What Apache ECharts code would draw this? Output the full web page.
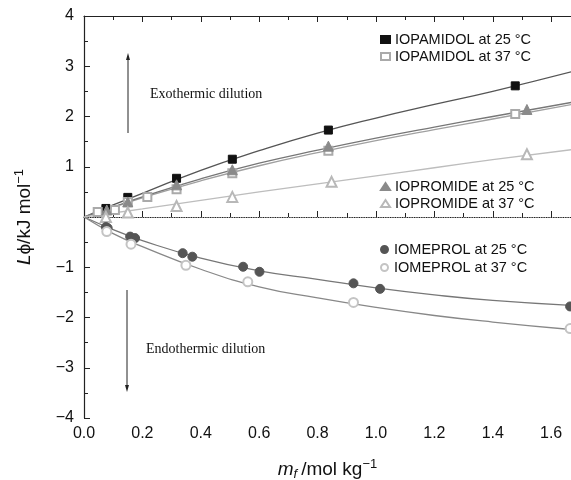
<!DOCTYPE html>
<html>
<head>
<meta charset="utf-8">
<script src="https://cdn.jsdelivr.net/npm/echarts@6/dist/echarts.min.js"></script>
<style>
  html, body { margin: 0; background: #fff; }
  #chart { width: 571px; height: 480px; }
</style>
</head>
<body>
<div id="chart"></div>
<script>
// measured points (mf, Lphi)
const iopamidol25 = [[0.075, 0.17], [0.15, 0.39], [0.317, 0.77], [0.508, 1.15], [0.837, 1.73], [1.477, 2.61]];
const iopamidol37 = [[0.047, 0.10], [0.106, 0.14], [0.15, 0.30], [0.217, 0.40], [0.317, 0.55], [0.508, 0.87], [0.837, 1.32], [1.477, 2.05]];
const iopromide25 = [[0.078, 0.14], [0.15, 0.30], [0.317, 0.64], [0.508, 0.94], [0.837, 1.41], [1.517, 2.14]];
const iopromide37 = [[0.075, 0.0], [0.15, 0.09], [0.317, 0.22], [0.508, 0.40], [0.848, 0.70], [1.517, 1.25]];
const iomeprol25 = [[0.075, -0.20], [0.081, -0.22], [0.158, -0.39], [0.175, -0.42], [0.338, -0.72], [0.371, -0.79],
  [0.545, -0.99], [0.601, -1.09], [0.923, -1.32], [1.014, -1.43], [1.665, -1.78]];
const iomeprol37 = [[0.078, -0.29], [0.161, -0.54], [0.349, -0.96], [0.561, -1.29], [0.923, -1.70], [1.665, -2.22]];

// fitted curves
const curveX = [0, 0.1, 0.2, 0.4, 0.6, 0.8, 1.0, 1.2, 1.4, 1.67];
const fitPam25 = [0, 0.24, 0.47, 0.93, 1.32, 1.67, 1.97, 2.24, 2.50, 2.89];
const fitPam37 = [0, 0.19, 0.38, 0.72, 1.02, 1.28, 1.52, 1.74, 1.95, 2.24];
const fitPro25 = [0, 0.20, 0.40, 0.76, 1.07, 1.33, 1.57, 1.79, 2.00, 2.28];
const fitPro37 = [0, 0.08, 0.16, 0.33, 0.50, 0.66, 0.82, 0.98, 1.14, 1.34];
const fitMep25 = [0, -0.25, -0.47, -0.82, -1.07, -1.24, -1.41, -1.55, -1.66, -1.76];
const fitMep37 = [0, -0.33, -0.59, -1.04, -1.39, -1.61, -1.80, -1.96, -2.09, -2.24];

const font = 'Liberation Sans, Arial, sans-serif';
const chart = echarts.init(document.getElementById('chart'));

function curve(vals, color) {
  return {
    type: 'line', data: curveX.map((x, i) => [x, vals[i]]),
    smooth: true, showSymbol: false, silent: true, z: 2,
    lineStyle: { color: color, width: 1.3 }
  };
}

function points(name, data, symbol, color, size) {
  return {
    name: name, type: 'scatter', data: data, symbol: symbol, symbolSize: size, z: 5,
    itemStyle: { color: color, borderColor: color, borderWidth: 1, opacity: 1 }
  };
}

function legendAt(top, names, gap) {
  return {
    left: 380, top: top, orient: 'vertical', padding: 0, itemGap: gap,
    itemWidth: 9, itemHeight: 7, selectedMode: false, data: names,
    textStyle: { fontFamily: font, fontSize: 14.5, color: '#111', lineHeight: 15 }
  };
}

const axisCommon = {
  min: 0, max: 1.668, interval: 0.2,
  axisLine: { lineStyle: { color: '#222', width: 1.2 } },
  axisTick: { inside: true, length: 6, lineStyle: { color: '#222' } },
  minorTick: { show: true, splitNumber: 2, length: 4, lineStyle: { color: '#222' } },
  splitLine: { show: false }
};

chart.setOption({
  animation: false,
  grid: { left: 84, right: 0, top: 16, bottom: 62, outerBoundsMode: 'none' },
  legend: [
    legendAt(32, ['IOPAMIDOL at 25 °C', 'IOPAMIDOL at 37 °C'], 2),
    legendAt(179, ['IOPROMIDE at 25 °C', 'IOPROMIDE at 37 °C'], 2),
    legendAt(242, ['IOMEPROL at 25 °C', 'IOMEPROL at 37 °C'], 3)
  ],
  xAxis: [
    Object.assign({}, axisCommon, {
      type: 'value', position: 'bottom',
      axisLabel: { fontFamily: font, fontSize: 16, color: '#111', margin: 8, showMaxLabel: false,
        formatter: v => v.toFixed(1) },
      name: '{i|m}{sub|f}/mol kg{sup|−1}', nameLocation: 'middle', nameGap: 40,
      nameTextStyle: {
        fontFamily: font, fontSize: 19, color: '#111',
        rich: {
          i: { fontFamily: font, fontSize: 19, fontStyle: 'italic', color: '#111' },
          sub: { fontFamily: font, fontSize: 13, fontStyle: 'italic', color: '#111', padding: [9, 4, 0, 0] },
          sup: { fontFamily: font, fontSize: 13, color: '#111', padding: [0, 0, 10, 0] }
        }
      }
    }),
    Object.assign({}, axisCommon, {
      type: 'value', position: 'top', axisLabel: { show: false }
    })
  ],
  yAxis: {
    type: 'value', min: -4, max: 4, interval: 1,
    axisLine: { lineStyle: { color: '#222', width: 1.2 } },
    axisTick: { inside: true, length: 6, lineStyle: { color: '#222' } },
    minorTick: { show: true, splitNumber: 2, length: 4, lineStyle: { color: '#222' } },
    splitLine: { show: false },
    axisLabel: {
      fontFamily: font, fontSize: 16, color: '#111', margin: 10,
      formatter: v => (v === 0 ? '' : (v < 0 ? '\u2212' + (-v) : String(v)))
    },
    name: '{i|L}ϕ/kJ mol{sup|−1}', nameLocation: 'middle', nameGap: 48,
    nameTextStyle: {
      fontFamily: font, fontSize: 19, color: '#111',
      rich: {
        i: { fontFamily: font, fontSize: 19, fontStyle: 'italic', color: '#111' },
        sup: { fontFamily: font, fontSize: 13, color: '#111', padding: [0, 0, 10, 0] }
      }
    }
  },
  graphic: [
    { type: 'text', left: 150, top: 87, style: { text: 'Exothermic dilution', font: '14px "Liberation Serif", serif', fill: '#111' } },
    { type: 'text', left: 146, top: 342, style: { text: 'Endothermic dilution', font: '14px "Liberation Serif", serif', fill: '#111' } },
    { type: 'line', shape: { x1: 128, y1: 133, x2: 128, y2: 58 }, style: { stroke: '#222', lineWidth: 1 } },
    { type: 'polygon', shape: { points: [[128, 53], [126, 60], [130, 60]] }, style: { fill: '#222' } },
    { type: 'line', shape: { x1: 127, y1: 290, x2: 127, y2: 387 }, style: { stroke: '#222', lineWidth: 1 } },
    { type: 'polygon', shape: { points: [[127, 392], [125, 385], [129, 385]] }, style: { fill: '#222' } }
  ],
  series: [
    Object.assign(curve([0, 0, 0, 0, 0, 0, 0, 0, 0, 0], 'rgba(0,0,0,0)'), {
      markLine: {
        silent: true, symbol: 'none', label: { show: false },
        lineStyle: { type: 'dotted', color: '#aaa', width: 1.2 },
        data: [{ yAxis: 0 }]
      }
    }),
    curve(fitPam25, '#555'),
    curve(fitPam37, '#a0a0a0'),
    curve(fitPro25, '#777'),
    curve(fitPro37, '#bdbdbd'),
    curve(fitMep25, '#777'),
    curve(fitMep37, '#888'),
    points('IOPAMIDOL at 25 °C', iopamidol25, 'rect', '#111', 8),
    points('IOPAMIDOL at 37 °C', iopamidol37, 'emptyRect', '#aaa', 8),
    points('IOPROMIDE at 25 °C', iopromide25, 'triangle', '#8a8a8a', 10),
    points('IOPROMIDE at 37 °C', iopromide37, 'emptyTriangle', '#b8b8b8', 10),
    points('IOMEPROL at 25 °C', iomeprol25, 'circle', '#555', 9),
    points('IOMEPROL at 37 °C', iomeprol37, 'emptyCircle', '#c4c4c4', 9)
  ]
});
</script>
</body>
</html>
